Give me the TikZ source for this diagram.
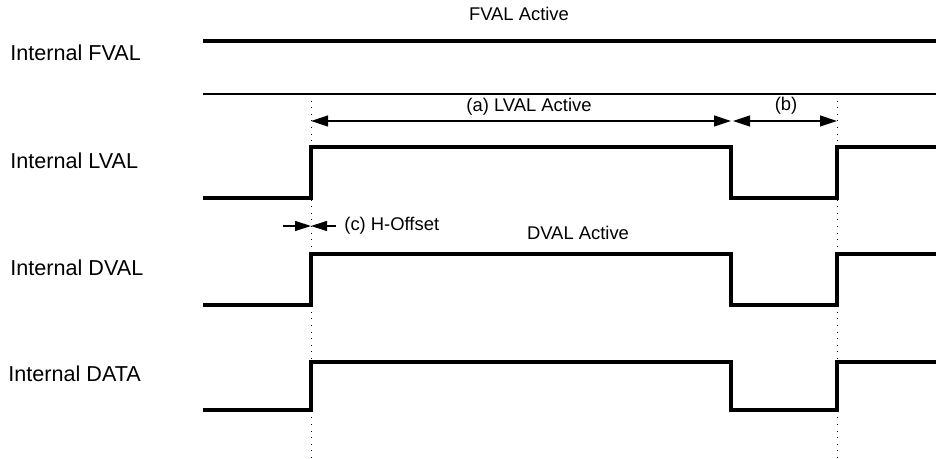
\documentclass[tikz,border=0pt]{standalone}
\usepackage{fontspec}
\setmainfont{Liberation Sans}
\usetikzlibrary{arrows.meta}
\tikzset{
  lbl/.style={font=\fontsize{10.8}{13}\selectfont, inner sep=0pt},
  note/.style={font=\fontsize{9.2}{11}\selectfont, inner sep=0pt},
  wave/.style={line width=2pt, line join=miter},
  dim/.style={line width=0.6pt, {Triangle[length=8.5pt,width=5.5pt]}-{Triangle[length=8.5pt,width=5.5pt]}},
  offs/.style={line width=0.6pt, -{Triangle[length=8pt,width=5pt]}},
  mark line/.style={line width=0.5pt, dash pattern=on 0.5pt off 2.8pt}
}
\begin{document}
\begin{tikzpicture}[x=0.5pt,y=-0.5pt]
  \useasboundingbox (0,0) rectangle (936,459);
  % signal names
  \node[lbl, anchor=west] (fvalname) at (10,53) {Internal FVAL};
  \node[lbl, anchor=west] (lvalname) at (10,161) {Internal LVAL};
  \node[lbl, anchor=west] (dvalname) at (10,268) {Internal DVAL};
  \node[lbl, anchor=west] (dataname) at (8,374) {Internal DATA};
  % frame valid
  \node[note] (fvalact) at (519,14) {FVAL Active};
  \draw[wave] (203,41) -- (936,41);
  \draw[line width=0.7pt] (203,94) -- (936,94);
  % line edges
  \coordinate (risetop) at (311,94);
  \coordinate (risebot) at (311,459);
  \coordinate (nexttop) at (837,94);
  \coordinate (nextbot) at (837,459);
  \draw[mark line] (risetop) -- (risebot);
  \draw[mark line] (nexttop) -- (nextbot);
  % (a) and (b)
  \coordinate (astart) at (311,121);
  \coordinate (aend) at (731,121);
  \coordinate (bstart) at (733,121);
  \coordinate (bend) at (837,121);
  \draw[dim] (astart) -- (aend);
  \draw[dim] (bstart) -- (bend);
  \node[note] (alabel) at (529,107) {(a) LVAL Active};
  \node[note] (blabel) at (786,106) {(b)};
  % (c) offset
  \coordinate (cleft) at (283,226);
  \coordinate (cright) at (336,226);
  \coordinate (cmid) at (311,226);
  \draw[offs] (cleft) -- (cmid);
  \draw[offs] (cright) -- (cmid);
  \node[note, anchor=west] (clabel) at (344,226) {(c) H-Offset};
  \node[note] (dvalact) at (578,233) {DVAL Active};
  % waveforms
  \foreach \hi/\lo in {147/198, 254/305, 362/410}
    \draw[wave] (203,\lo) -- (311,\lo) -- (311,\hi) -- (731,\hi) -- (731,\lo)
                -- (837,\lo) -- (837,\hi) -- (936,\hi);
\end{tikzpicture}
\end{document}
